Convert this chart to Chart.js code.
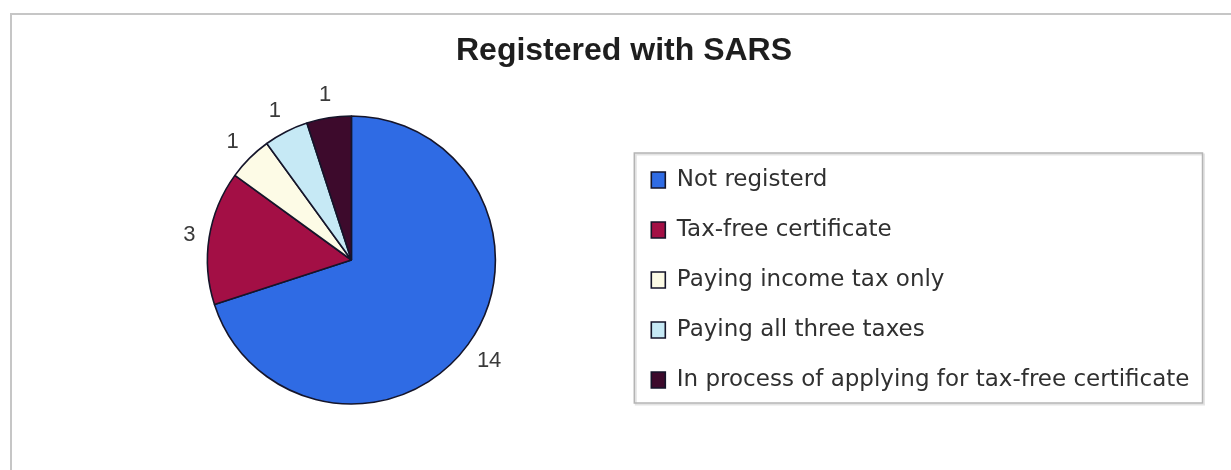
<!DOCTYPE html>
<html>
<head>
<meta charset="utf-8">
<script src="https://cdn.jsdelivr.net/npm/chart.js@4/dist/chart.umd.min.js"></script>
<style>
  html, body { margin: 0; padding: 0; background: #ffffff; overflow: hidden; }
  #wrap { position: relative; width: 1231px; height: 470px; }
  #frame { position: absolute; left: 10px; top: 13px; width: 1240px; height: 480px;
           border-left: 2px solid #c6c6c6; border-top: 2px solid #c6c6c6; }
  #c { position: absolute; left: 0; top: 0; }
</style>
</head>
<body>
<div id="wrap">
  <div id="frame"></div>
  <canvas id="c" width="1231" height="470"></canvas>
</div>
<script>
const titleText = 'Registered with SARS';
const categories = [
  'Not registerd',
  'Tax-free certificate',
  'Paying income tax only',
  'Paying all three taxes',
  'In process of applying for tax-free certificate'
];
const counts = [14, 3, 1, 1, 1];
const sliceColors = ['#2f6be4', '#a30f45', '#fdfbe6', '#c6e9f5', '#3d0a2c'];

// empty layout box on the left so the pie sits left of the page centre
const leftSpacer = {
  id: 'leftSpacer',
  beforeInit(chart) {
    const box = {
      position: 'left', weight: 100, fullSize: false, options: {},
      left: 0, top: 0, right: 0, bottom: 0, width: 0, height: 0,
      isHorizontal() { return false; },
      update(maxWidth, maxHeight) { this.width = 30; this.height = maxHeight; },
      draw() {}
    };
    Chart.layouts.addBox(chart, box);
  }
};

const pieLabels = {
  id: 'pieLabels',
  afterDatasetsDraw(chart) {
    const ctx = chart.ctx;
    const meta = chart.getDatasetMeta(0);
    ctx.save();
    ctx.font = '22px "Liberation Sans", Arial, sans-serif';
    ctx.fillStyle = '#3a3a3a';
    ctx.textAlign = 'center';
    ctx.textBaseline = 'middle';
    meta.data.forEach((arc, i) => {
      const p = arc.getProps(['x', 'y', 'startAngle', 'endAngle', 'outerRadius'], true);
      const mid = (p.startAngle + p.endAngle) / 2;
      const txt = String(chart.data.datasets[0].data[i]);
      const w = ctx.measureText(txt).width;
      const hw = w / 2, hh = 9;
      const c = Math.cos(mid), s = Math.sin(mid);
      const d = p.outerRadius + 15 + Math.abs(c) * hw * 0.6 + Math.abs(s) * hh;
      ctx.fillText(txt, p.x + c * d, p.y + s * d + 1);
    });
    ctx.restore();
  }
};

const legendFrame = {
  id: 'legendFrame',
  afterDraw(chart) {
    const lg = chart.legend;
    if (!lg || !lg.legendHitBoxes || !lg.legendHitBoxes.length) return;
    const hb = lg.legendHitBoxes;
    const left = Math.min(...hb.map(h => h.left)) - 17;
    const right = Math.max(...hb.map(h => h.left + h.width)) + 13;
    const top = hb[0].top - 15.5;
    const bottom = hb[hb.length - 1].top + hb[hb.length - 1].height + 11.5;
    const ctx = chart.ctx;
    ctx.save();
    ctx.strokeStyle = '#e4e4e4';
    ctx.lineWidth = 2;
    ctx.strokeRect(left + 1.5, top + 1.5, right - left, bottom - top);
    ctx.strokeStyle = '#b4b4b4';
    ctx.lineWidth = 1.5;
    ctx.strokeRect(left, top, right - left, bottom - top);
    ctx.restore();
  }
};

new Chart(document.getElementById('c'), {
  type: 'pie',
  data: {
    labels: categories,
    datasets: [{
      data: counts,
      backgroundColor: sliceColors,
      borderColor: '#15152a',
      borderWidth: 1.6,
      radius: 144,
      clip: false
    }]
  },
  options: {
    responsive: false,
    animation: false,
    events: [],
    layout: { padding: { left: 48.5, right: 31.5, top: 0, bottom: 51.5 } },
    plugins: {
      title: {
        display: true,
        text: titleText,
        color: '#1e1e1e',
        font: { family: '"Liberation Sans", Arial, sans-serif', size: 32, weight: 'bold', lineHeight: 1.2 },
        padding: { top: 32.1, bottom: 31 }
      },
      legend: {
        display: true,
        position: 'right',
        align: 'end',
        maxWidth: 1000,
        labels: {
          color: '#303030',
          font: { family: '"DejaVu Sans", sans-serif', size: 23 },
          boxWidth: 14,
          boxHeight: 16,
          padding: 27
        }
      },
      tooltip: { enabled: false }
    }
  },
  plugins: [leftSpacer, pieLabels, legendFrame]
});
</script>
</body>
</html>
